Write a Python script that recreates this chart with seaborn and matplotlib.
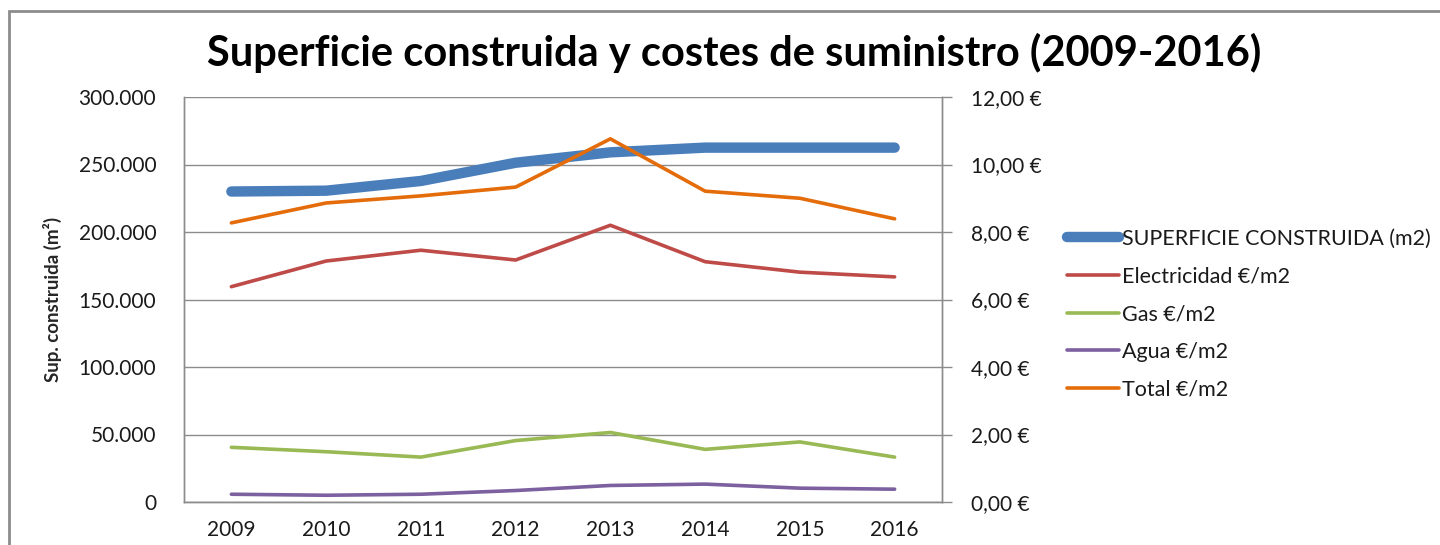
import matplotlib
matplotlib.use("Agg")
import matplotlib.pyplot as plt
import seaborn as sns
from matplotlib.patches import Rectangle
from matplotlib.ticker import FuncFormatter, MultipleLocator

# Datos
years = ["2009", "2010", "2011", "2012", "2013", "2014", "2015", "2016"]
superficie = [230000, 230600, 237800, 251300, 259000, 262500, 262500, 262500]
electricidad = [6.38, 7.14, 7.46, 7.17, 8.20, 7.12, 6.81, 6.67]
gas = [1.62, 1.49, 1.33, 1.82, 2.06, 1.56, 1.78, 1.33]
agua = [0.23, 0.20, 0.23, 0.34, 0.49, 0.53, 0.41, 0.38]
total = [8.27, 8.86, 9.07, 9.33, 10.76, 9.21, 9.00, 8.39]

sns.set_style("white")
plt.rcParams["font.family"] = ["Lato", "DejaVu Sans"]

fig = plt.figure(figsize=(14.4, 5.45), dpi=100)
ax = fig.add_axes([184 / 1440, 43 / 545, 758 / 1440, 405 / 545])
ax2 = ax.twinx()

x = list(range(len(years)))

sns.lineplot(x=x, y=superficie, ax=ax, color="#4A7EBB", linewidth=7.5,
             solid_capstyle="round", label="SUPERFICIE CONSTRUIDA (m2)", legend=False)
series = [
    (electricidad, "#BE4B48", "Electricidad €/m2"),
    (gas, "#98B954", "Gas €/m2"),
    (agua, "#7D60A0", "Agua €/m2"),
    (total, "#E46C0A", "Total €/m2"),
]
for vals, col, lab in series:
    sns.lineplot(x=x, y=vals, ax=ax2, color=col, linewidth=2.6, label=lab, legend=False)

ax.set_xlim(-0.5, len(years) - 0.5)
ax.set_ylim(0, 300000)
ax2.set_ylim(0, 12)
ax.yaxis.set_major_locator(MultipleLocator(50000))
ax2.yaxis.set_major_locator(MultipleLocator(2))
ax.set_xticks(x)
ax.set_xticklabels(years)

ax.yaxis.set_major_formatter(FuncFormatter(lambda v, p: f"{int(v):,}".replace(",", ".")))
ax2.yaxis.set_major_formatter(FuncFormatter(lambda v, p: f"{v:.2f}".replace(".", ",") + " €"))

ax.grid(axis="y", color="#8C8C8C", linewidth=1)
ax.grid(axis="x", visible=False)
ax2.grid(False)

for a in (ax, ax2):
    for s in a.spines.values():
        s.set_color("#8C8C8C")
        s.set_linewidth(1)
    a.spines["top"].set_visible(False)

ax.tick_params(axis="y", length=0, pad=20, labelsize=15, labelcolor="#1a1a1a")
ax.tick_params(axis="x", length=0, pad=13, labelsize=15, labelcolor="#1a1a1a")
ax2.tick_params(axis="y", length=7, width=1, color="#8C8C8C", pad=14, labelsize=15,
                labelcolor="#1a1a1a", direction="out")

ax.set_ylabel("Sup. construida (m²)", fontsize=13.5, fontweight="bold", labelpad=12)

fig.suptitle("Superficie construida y costes de suministro (2009-2016)",
             x=0.51, y=0.94, fontsize=30, fontweight="bold", color="black")

h1, l1 = ax.get_legend_handles_labels()
h2, l2 = ax2.get_legend_handles_labels()
fig.legend(h1 + h2, l1 + l2, loc="upper left", bbox_to_anchor=(1067 / 1440, 1 - 229 / 545),
           frameon=False, fontsize=15.5, handlelength=2.4, handletextpad=0.15,
           labelspacing=0.82, borderpad=0, borderaxespad=0, labelcolor="#1a1a1a")

# marco del gráfico
fig.patches.append(Rectangle((9 / 1440, -0.05), 1.0, 1 - 11 / 545 + 0.05, transform=fig.transFigure,
                             fill=False, edgecolor="#8C8C8C", linewidth=2))

fig.savefig("out.png", dpi=100)
